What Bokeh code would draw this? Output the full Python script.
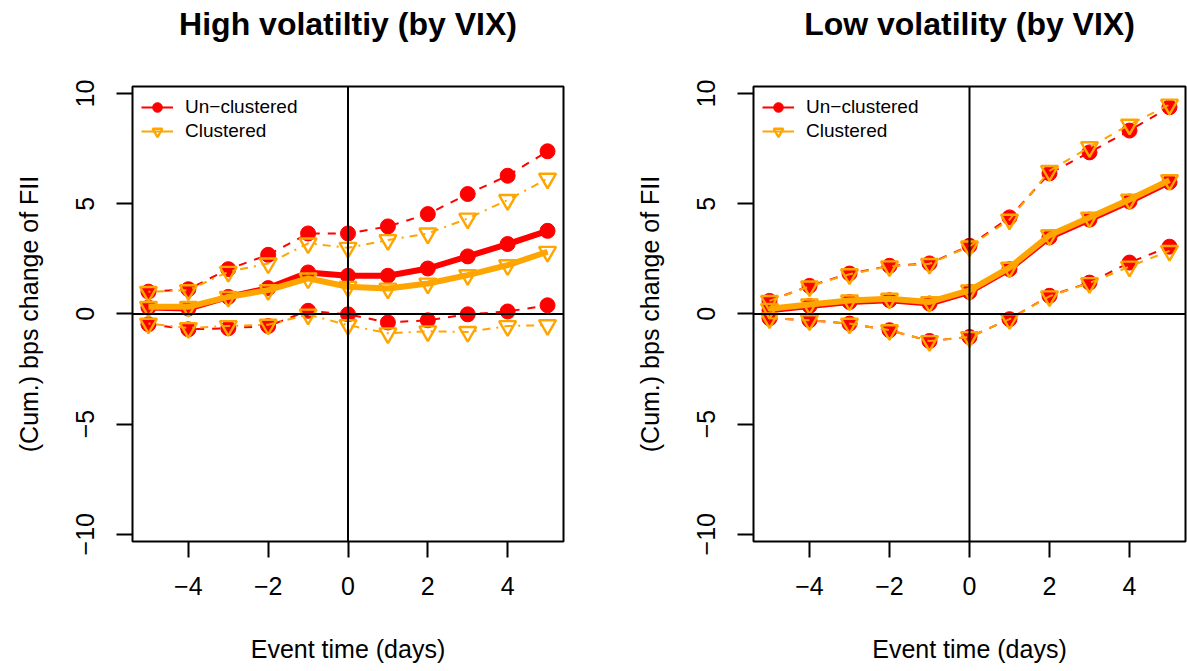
from bokeh.plotting import figure
from bokeh.models import Span, Legend, LegendItem, FixedTicker, Range1d, LinearAxis
from bokeh.layouts import row
from bokeh.embed import file_html
from bokeh.resources import INLINE

event_time = [-5, -4, -3, -2, -1, 0, 1, 2, 3, 4, 5]

# High volatility panel
high_unc_mean = [0.29, 0.24, 0.77, 1.17, 1.88, 1.73, 1.73, 2.06, 2.61, 3.17, 3.77]
high_unc_upper = [1.01, 1.12, 2.03, 2.68, 3.65, 3.65, 3.97, 4.53, 5.44, 6.27, 7.38]
high_unc_lower = [-0.47, -0.70, -0.65, -0.55, 0.14, -0.02, -0.39, -0.29, -0.02, 0.11, 0.39]
high_cl_mean = [0.32, 0.32, 0.77, 1.08, 1.61, 1.23, 1.15, 1.38, 1.76, 2.21, 2.82]
high_cl_upper = [1.00, 1.08, 1.91, 2.29, 3.20, 3.00, 3.35, 3.65, 4.33, 5.17, 6.14]
high_cl_lower = [-0.44, -0.64, -0.55, -0.49, -0.03, -0.51, -0.88, -0.79, -0.82, -0.55, -0.51]

# Low volatility panel
low_unc_mean = [0.16, 0.36, 0.54, 0.62, 0.47, 1.00, 2.03, 3.48, 4.28, 5.10, 5.98]
low_unc_upper = [0.59, 1.27, 1.83, 2.18, 2.29, 3.09, 4.38, 6.38, 7.33, 8.32, 9.38]
low_unc_lower = [-0.20, -0.29, -0.44, -0.74, -1.23, -1.05, -0.24, 0.82, 1.42, 2.33, 3.05]
low_cl_mean = [0.23, 0.43, 0.61, 0.69, 0.54, 1.07, 2.10, 3.57, 4.37, 5.19, 6.07]
low_cl_upper = [0.59, 1.25, 1.80, 2.16, 2.27, 3.06, 4.28, 6.49, 7.57, 8.59, 9.50]
low_cl_lower = [-0.20, -0.29, -0.44, -0.74, -1.23, -1.05, -0.24, 0.80, 1.40, 2.15, 2.86]

titles = ["High volatiltiy (by VIX)", "Low volatility (by VIX)"]
legend_labels = ["Un\u2212clustered", "Clustered"]
x_ticks = [-4, -2, 0, 2, 4]
y_ticks = [-10, -5, 0, 5, 10]
x_label = "Event time (days)"
y_label = "(Cum.) bps change of FII"

RED = "#FF0000"
ORANGE = "#FFA500"
FONT = "Liberation Sans"


def make_panel(title, unc, cl, cl_dash, left_border, right_border, frame_w):
    p = figure(frame_width=frame_w, frame_height=455,
               min_border_left=left_border, min_border_right=right_border,
               min_border_top=86, min_border_bottom=130,
               x_range=Range1d(-5.4, 5.4), y_range=Range1d(-10.33, 10.32),
               output_backend="svg", toolbar_location=None)
    p.grid.visible = False
    p.outline_line_color = "black"
    p.outline_line_width = 2
    p.background_fill_color = "white"
    p.border_fill_color = "white"
    p.title.visible = False
    p.title.standoff = 0

    xax = p.below[0]
    yax = p.left[0]

    for ax in (xax, yax):
        ax.axis_line_color = None
        ax.major_tick_out = 16
        ax.major_tick_in = 0
        ax.major_tick_line_width = 2
        ax.major_tick_line_color = "black"
        ax.minor_tick_line_color = None
        ax.major_label_text_font = FONT
        ax.major_label_text_font_size = "25px"
        ax.major_label_text_color = "black"
        ax.axis_label_text_font = FONT
        ax.axis_label_text_font_size = "25px"
        ax.axis_label_text_font_style = "normal"
        ax.axis_label_text_color = "black"
    xax.ticker = FixedTicker(ticks=x_ticks)
    yax.ticker = FixedTicker(ticks=y_ticks)
    xax.major_label_overrides = {t: ("\u2212" + str(-t) if t < 0 else str(t)) for t in x_ticks}
    yax.major_label_overrides = {t: ("\u2212" + str(-t) if t < 0 else str(t)) for t in y_ticks}
    yax.major_label_orientation = "vertical"
    xax.axis_label = x_label
    yax.axis_label = y_label
    xax.major_label_standoff = 19
    xax.axis_label_standoff = 37
    yax.major_label_standoff = 22
    yax.axis_label_standoff = 31

    # main title drawn as the label of an empty axis above the frame
    top = LinearAxis(ticker=FixedTicker(ticks=[]), axis_line_color=None,
                     major_tick_line_color=None, minor_tick_line_color=None,
                     major_tick_out=0, major_tick_in=0, major_label_standoff=0,
                     axis_label=title, axis_label_standoff=45,
                     axis_label_text_font=FONT, axis_label_text_font_size="32px",
                     axis_label_text_font_style="bold", axis_label_text_color="black")
    p.add_layout(top, "above")

    unc_mean, unc_upper, unc_lower = unc
    cl_mean, cl_upper, cl_lower = cl

    # thin key lines for the legend (hidden beneath the thick mean lines)
    key_red = p.line(event_time, unc_mean, line_color=RED, line_width=2)
    key_orange = p.line(event_time, cl_mean, line_color=ORANGE, line_width=2)

    # Un-clustered (red)
    for ys in (unc_upper, unc_lower):
        p.line(event_time, ys, line_color=RED, line_width=2, line_dash="8 8")
        p.scatter(event_time, ys, marker="circle", size=15, fill_color=RED, line_color=RED)
    p.line(event_time, unc_mean, line_color=RED, line_width=6)
    red_pts = p.scatter(event_time, unc_mean, marker="circle", size=15,
                        fill_color=RED, line_color=RED)

    # Clustered (orange)
    for ys in (cl_upper, cl_lower):
        p.line(event_time, ys, line_color=ORANGE, line_width=2, line_dash=cl_dash)
        p.scatter(event_time, ys, marker="inverted_triangle", size=17, fill_color=None,
                  line_color=ORANGE, line_width=2.4)
    p.line(event_time, cl_mean, line_color=ORANGE, line_width=6)
    orange_pts = p.scatter(event_time, cl_mean, marker="inverted_triangle", size=17,
                           fill_color=None, line_color=ORANGE, line_width=2.4)

    p.add_layout(Span(location=0, dimension="height", line_color="black", line_width=2))
    p.add_layout(Span(location=0, dimension="width", line_color="black", line_width=2))

    legend = Legend(items=[LegendItem(label=legend_labels[0], renderers=[key_red, red_pts]),
                           LegendItem(label=legend_labels[1], renderers=[key_orange, orange_pts])],
                    location="top_left", padding=9, margin=0, spacing=0,
                    glyph_height=24, glyph_width=32, label_height=22, label_standoff=12,
                    label_text_font=FONT, label_text_font_size="19px",
                    label_text_color="black",
                    border_line_alpha=0, background_fill_alpha=0)
    p.add_layout(legend)
    return p


p1 = make_panel(titles[0], (high_unc_mean, high_unc_upper, high_unc_lower),
                (high_cl_mean, high_cl_upper, high_cl_lower), "2 6 8 6", 132, 37, 431)
p2 = make_panel(titles[1], (low_unc_mean, low_unc_upper, low_unc_lower),
                (low_cl_mean, low_cl_upper, low_cl_lower), "8 8", 153, 2, 432)

layout = row(p1, p2)
open("out.html", "w").write(file_html(layout, INLINE))
